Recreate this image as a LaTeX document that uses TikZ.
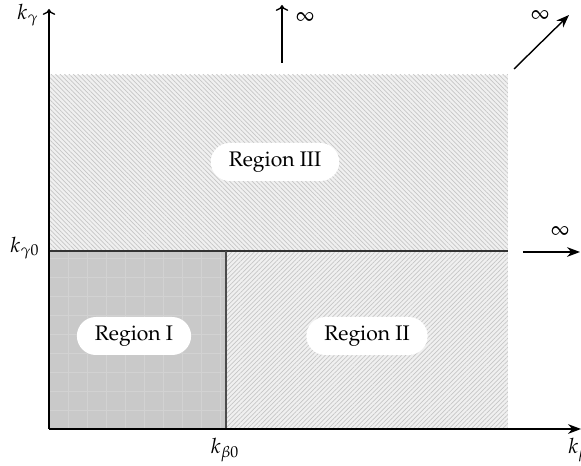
\documentclass[tikz,border=0pt]{standalone}
\usepackage[T1]{fontenc}
\usepackage{mathpazo}
\usepackage{amsmath}
\usetikzlibrary{arrows.meta}
\usetikzlibrary{patterns.meta}
\tikzset{regionlabel/.style={fill=white, rounded corners=3.8mm, minimum height=7.6mm, inner xsep=3.6mm, font=\large}}
\tikzset{hatch/.style={pattern color=gray!45, pattern={Lines[angle=#1, distance=1.8pt, line width=0.4pt]}}}

\begin{document}
\begin{tikzpicture}
      \useasboundingbox (-0.98, -0.74) rectangle (10.64, 8.58);

      % regions
      \fill [gray!12] (0, 3.56) rectangle (9.18, 7.08);
      \fill [hatch=-45] (0, 3.56) rectangle (9.18, 7.08);
      \fill [gray!12] (3.54, 0) rectangle (9.18, 3.56);
      \fill [hatch=45] (3.54, 0) rectangle (9.18, 3.56);
      \fill [gray!42] (0, 0) rectangle (3.54, 3.56);
      \draw [gray!35, line width=0.25pt, step=0.38] (0, 0) grid (3.54, 3.56);

      \draw [black!80, thick] (0, 3.56) -- (9.18, 3.56);
      \draw [black!70, thick] (3.54, 0) -- (3.54, 3.56);

      % axes
      \draw [thick, -{Stealth[length=2.6mm]}] (0, 0) -- (10.64, 0);
      \draw [thick, ->] (0, 0) -- (0, 8.4);

      \node (kg) at (-0.42, 8.28) {\large $k_\gamma$};
      \node (kg0) at (-0.48, 3.62) {\large $k_{\gamma 0}$};
      \node (kb0) at (3.52, -0.42) {\large $k_{\beta 0}$};
      \node [anchor=west, inner sep=0pt] (kb) at (10.38, -0.42) {\large $k_\beta$};

      \node [regionlabel] (r3) at (4.52, 5.34) {Region III};
      \node [regionlabel] (r1) at (1.7, 1.86) {Region I};
      \node [regionlabel] (r2) at (6.36, 1.86) {Region II};

      % towards infinity
      \draw [thick, -{Stealth[length=2.6mm]}] (9.48, 3.54) -- (10.62, 3.54);
      \node (inf1) at (10.22, 3.94) {\large $\infty$};
      \draw [thick, ->] (4.66, 7.32) -- (4.66, 8.48);
      \node (inf2) at (5.12, 8.22) {\large $\infty$};
      \draw [thick, -{Stealth[length=2.6mm]}] (9.3, 7.2) -- (10.4, 8.28);
      \node (inf3) at (9.82, 8.26) {\large $\infty$};
    \end{tikzpicture}
\end{document}
